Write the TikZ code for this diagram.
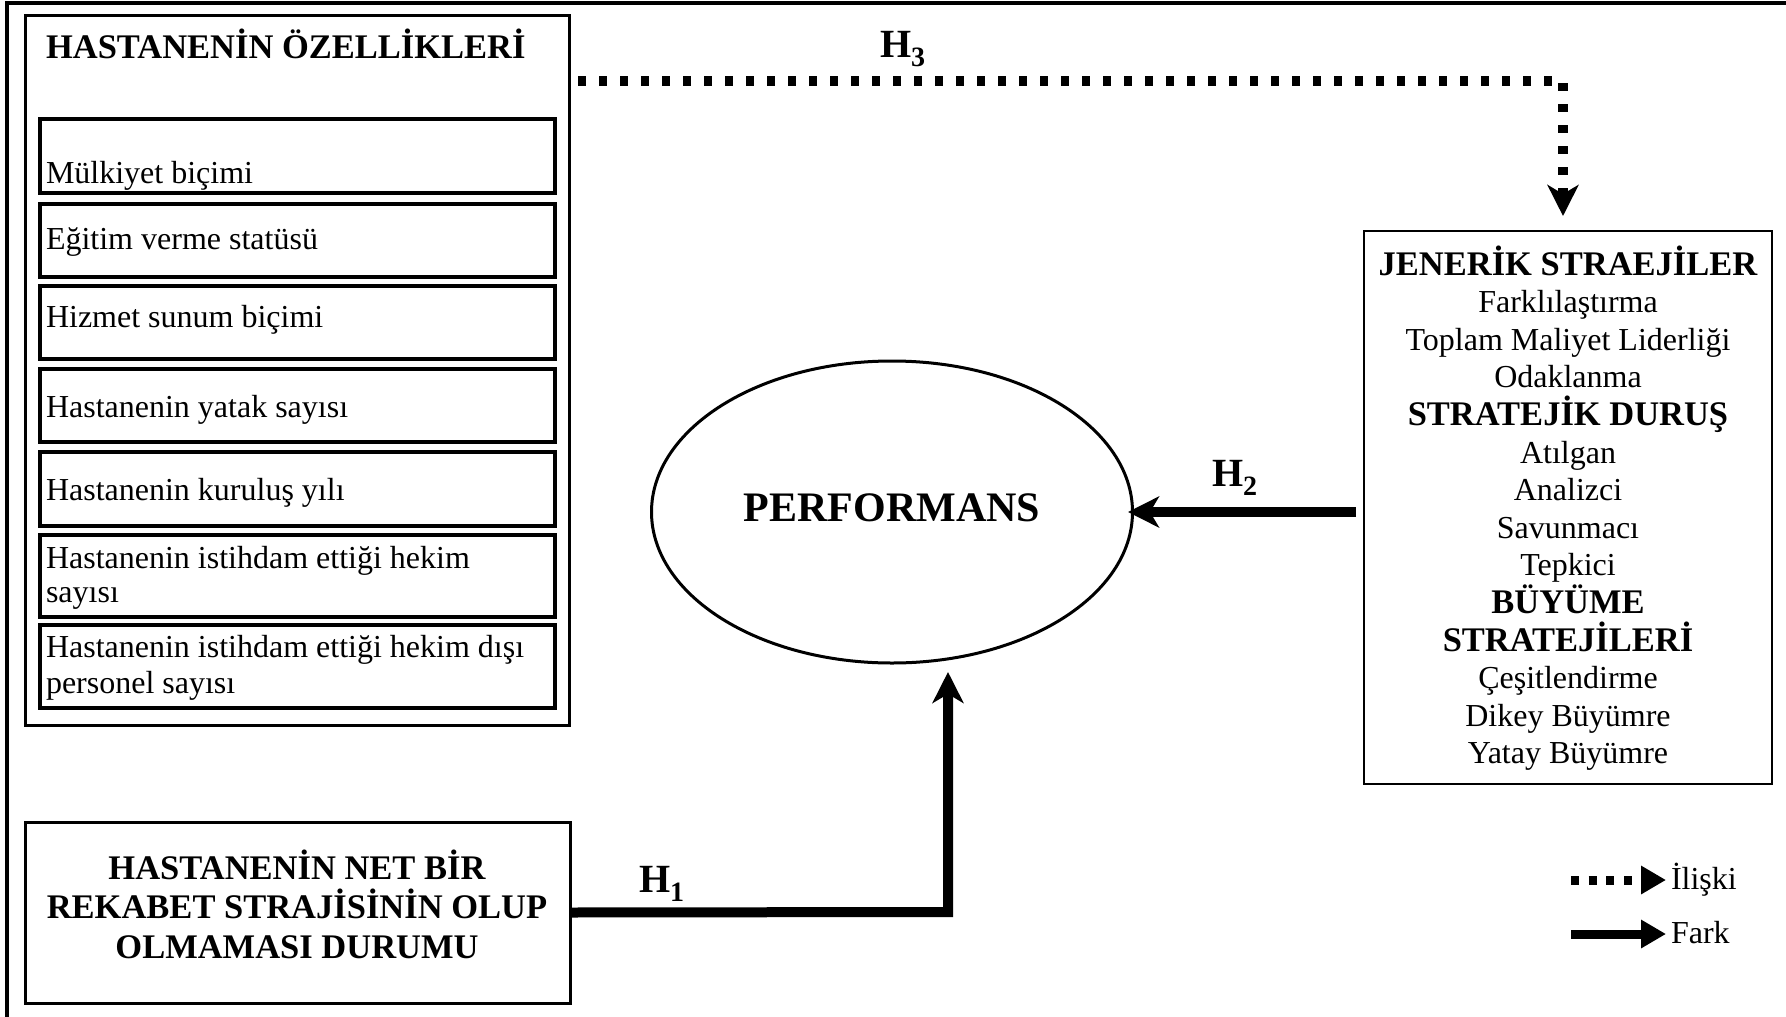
\documentclass[tikz,border=0pt]{standalone}
\usepackage{fontspec}
\setmainfont{Liberation Serif}
\usetikzlibrary{arrows.meta,shapes.geometric}

\newcommand\strhead[1]{{\bfseries\fontsize{34.5}{40}\selectfont #1}}

\begin{document}
\begin{tikzpicture}[x=1pt, y=-1pt,
  every node/.style={inner sep=0pt, outer sep=0pt},
  regtext/.style={font=\fontsize{32}{36}\selectfont},
  boldtext/.style={font=\bfseries\fontsize{34.5}{40}\selectfont},
  hlabel/.style={font=\bfseries\fontsize{40}{44}\selectfont, anchor=base west},
  panel/.style={draw, line width=3pt, anchor=north west},
  itembox/.style={draw, line width=3.3pt, minimum width=515pt, anchor=north west},
  fark/.style={line width=10pt, -{Stealth[length=31pt, width=31pt, inset=9pt]}},
  iliski/.style={line width=10pt, dash pattern=on 8pt off 13pt, -{Stealth[length=31pt, width=31pt, inset=9pt]}},
  legdot/.style={line width=9pt, dash pattern=on 8pt off 9.7pt, -{Triangle[length=25pt, width=27pt]}},
  legline/.style={line width=9pt, -{Triangle[length=25pt, width=27pt]}},
]
\useasboundingbox (0,0) rectangle (1786,1017);

% outer frame (top and left edges)
\draw[line width=3.3pt] (7,1017) -- (7,3) -- (1786,3);

% hospital characteristics panel
\node[panel, minimum width=544pt, minimum height=710pt] (grp) at (25,15) {};
\node[boldtext, anchor=base west] (grpt) at (46,58) {HASTANENİN ÖZELLİKLERİ};

\node[itembox, minimum height=74pt] (i1) at (40,119) {};
\node[regtext, anchor=base west] (t1) at (46,183) {Mülkiyet biçimi};
\node[itembox, minimum height=73pt] (i2) at (40,204) {};
\node[regtext, anchor=base west] (t2) at (46,249) {Eğitim verme statüsü};
\node[itembox, minimum height=73pt] (i3) at (40,286) {};
\node[regtext, anchor=base west] (t3) at (46,327) {Hizmet sunum biçimi};
\node[itembox, minimum height=73pt] (i4) at (40,369) {};
\node[regtext, anchor=base west] (t4) at (46,417) {Hastanenin yatak sayısı};
\node[itembox, minimum height=74pt] (i5) at (40,452) {};
\node[regtext, anchor=base west] (t5) at (46,500) {Hastanenin kuruluş yılı};
\node[itembox, minimum height=82pt] (i6) at (40,535) {};
\node[regtext, anchor=base west] (t6a) at (46,568) {Hastanenin istihdam ettiği hekim};
\node[regtext, anchor=base west] (t6b) at (46,602) {sayısı};
\node[itembox, minimum height=83pt] (i7) at (40,625) {};
\node[regtext, anchor=base west] (t7a) at (46,657) {Hastanenin istihdam ettiği hekim dışı};
\node[regtext, anchor=base west] (t7b) at (46,693) {personel sayısı};

% competitive strategy box
\node[panel, minimum width=545pt, minimum height=181pt] (bot) at (25,822) {};
\foreach \t [count=\i] in {HASTANENİN NET BİR, REKABET STRAJİSİNİN OLUP, OLMAMASI DURUMU}
  \node[boldtext, anchor=base] (b\i) at (297,{879+39.5*(\i-1)}) {\t};

% performance
\node[draw, ellipse, line width=3pt, minimum width=481pt, minimum height=302pt] (perf) at (892,512) {};
\node[font=\bfseries\fontsize{42}{46}\selectfont, anchor=base] (perft) at (892,521) {PERFORMANS};

% strategies box
\node[draw, line width=2.7pt, minimum width=408pt, minimum height=553pt, anchor=north west] (right) at (1364,231) {};
\foreach \t [count=\i] in {{\strhead{JENERİK STRAEJİLER}}, Farklılaştırma, Toplam Maliyet Liderliği,
    Odaklanma, {\strhead{STRATEJİK DURUŞ}}, Atılgan, Analizci, Savunmacı, Tepkici,
    {\strhead{BÜYÜME}}, {\strhead{STRATEJİLERİ}}, Çeşitlendirme, Dikey Büyümre, Yatay Büyümre}
  \node[regtext, anchor=base] (s\i) at (1568,{275+37.6*(\i-1)}) {\t};

% hypotheses
\coordinate (h3c) at (1563,81);
\draw[iliski, shorten <=9pt, shorten >=15pt] (grp.east |- h3c) -- (h3c) -- (right.north -| h3c);
\node[hlabel] (h3) at (880,57) {H\textsubscript{3}};

\coordinate (h2s) at (1356,512);
\draw[fark, shorten >=-4.5pt] (h2s) -- (perf.east);
\node[hlabel] (h2) at (1212,486) {H\textsubscript{2}};

\coordinate (h1c) at (948,912);
\coordinate (h1e) at (948,672);
\draw[fark] (bot.east) -- (h1c) -- (h1e);
\node[hlabel] (h1) at (639,892) {H\textsubscript{1}};

% legend
\node[regtext, anchor=base west] (lil) at (1671,889) {İlişki};
\node[regtext, anchor=base west] (lfa) at (1671,943) {Fark};
\coordinate (la) at (1571,880);
\coordinate (lb) at (1571,934);
\draw[legdot, shorten >=5pt] (la) -- (lil.west |- la);
\draw[legline, shorten >=5pt] (lb) -- (lfa.west |- lb);
\end{tikzpicture}
\end{document}
